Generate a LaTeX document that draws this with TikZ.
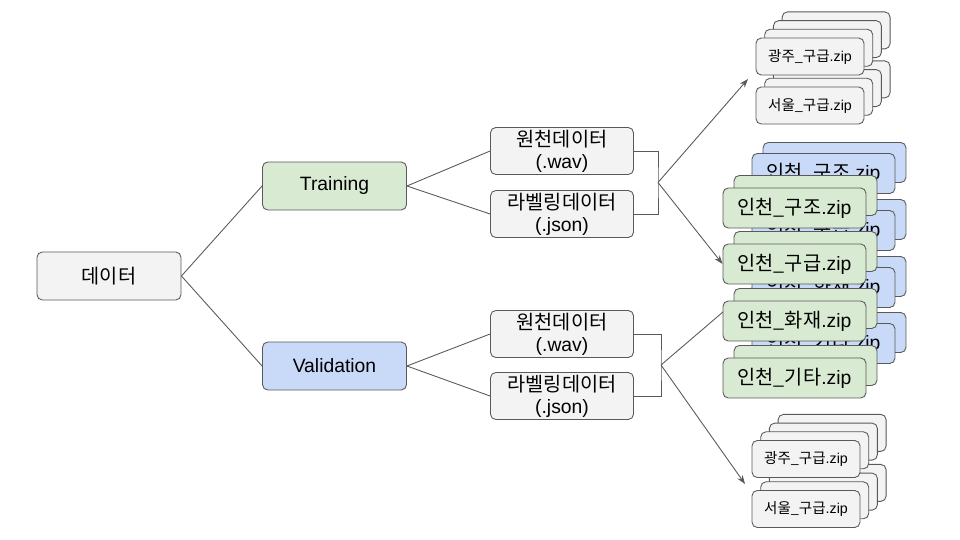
\documentclass[tikz,border=0pt]{standalone}
\usepackage{fontspec}
\setmainfont{Liberation Sans}
\newfontfamily\kr[Scale=1.02]{Noto Sans CJK KR}
\usetikzlibrary{arrows.meta}
\definecolor{linegray}{HTML}{595959}
\definecolor{boxgray}{HTML}{F3F3F3}
\definecolor{boxgreen}{HTML}{D9EAD3}
\definecolor{boxblue}{HTML}{C9DAF8}

\begin{document}
\begin{tikzpicture}[x=0.02cm, y=-0.02cm,
    card/.style={draw=linegray, line width=0.5pt, rounded corners=3pt, inner sep=0pt,
        align=center, font=\fontsize{11}{12.6}\selectfont},
    bigcard/.style={card, fill=boxgray, minimum width=2.88cm, minimum height=0.96cm},
    srccard/.style={card, fill=boxgray, minimum width=2.86cm, minimum height=0.94cm},
    zipcard/.style={card, fill=boxgray, minimum width=2.16cm, minimum height=0.74cm,
        font=\fontsize{8.1}{9}\selectfont},
    greencard/.style={card, fill=boxgreen, minimum width=2.86cm, minimum height=0.8cm},
    bluecard/.style={card, fill=boxblue, minimum width=2.86cm, minimum height=0.8cm},
    link/.style={draw=linegray, line width=0.5pt},
    arrow/.style={link, -{Stealth[length=5pt, width=3.6pt]}}]
\useasboundingbox (0,0) rectangle (960,540);

% data -> training / validation
\node[bigcard] (data) at (109,276) {\kr 데이터};
\node[bigcard, fill=boxgreen] (train) at (334.5,186) {Training};
\node[bigcard, fill=boxblue] (valid) at (334.5,366) {Validation};
\draw[link] (data.east) -- (train.west);
\draw[link] (data.east) -- (valid.west);

% raw and label data
\node[srccard] (trwav) at (562,151) {{\kr 원천데이터}\\(.wav)};
\node[srccard] (trjson) at (562,214) {{\kr 라벨링데이터}\\(.json)};
\node[srccard] (vawav) at (562,334) {{\kr 원천데이터}\\(.wav)};
\node[srccard] (vajson) at (562,396) {{\kr 라벨링데이터}\\(.json)};
\draw[link] (train.east) -- (trwav.west);
\draw[link] (train.east) -- (trjson.west);
\draw[link] (valid.east) -- (vawav.west);
\draw[link] (valid.east) -- (vajson.west);

\coordinate (trsplit) at (658,182.5);
\coordinate (vasplit) at (661,365);
\draw[link] (trwav.east) -| (trsplit) |- (trjson.east);
\draw[link] (vawav.east) -| (vasplit) |- (vajson.east);

% grey zip stacks
\foreach \nm/\txt/\cx/\cy in {tseoul/서울/810/105.5, tgwangju/광주/810/56.5,
    bseoul/서울/806/509, bgwangju/광주/806/459} {
  \foreach \k in {3,2,1}
    \node[zipcard] at (\cx+8.7*\k, \cy-8.7*\k) {};
  \node[zipcard] (\nm) at (\cx,\cy) {{\kr \txt\_구급}.zip};
}

% blue zip stack (behind)
\foreach \nm/\txt/\cy in {bgujo/구조/173.5, bgugeup/구급/230.5, bhwajae/화재/287.5, bgita/기타/343.5} {
  \node[bluecard] at (834.5,\cy-11) {};
  \node[bluecard] (\nm) at (823.5,\cy) {{\kr 인천\_\txt}.zip};
}
\draw[arrow] (vasplit) -- (bhwajae.west);

% green zip stack
\foreach \nm/\txt/\cy in {ggita/기타/378, ghwajae/화재/321, ggugeup/구급/264, ggujo/구조/208} {
  \node[greencard] at (805.5,\cy-12.5) {};
  \node[greencard] (\nm) at (794.5,\cy) {{\kr 인천\_\txt}.zip};
}

\coordinate (trtop) at (748,79);
\coordinate (vabottom) at (745,484);
\draw[arrow] (trsplit) -- (trtop);
\draw[arrow] (trsplit) -- (ggugeup.west);
\draw[arrow] (vasplit) -- (vabottom);
\end{tikzpicture}
\end{document}
